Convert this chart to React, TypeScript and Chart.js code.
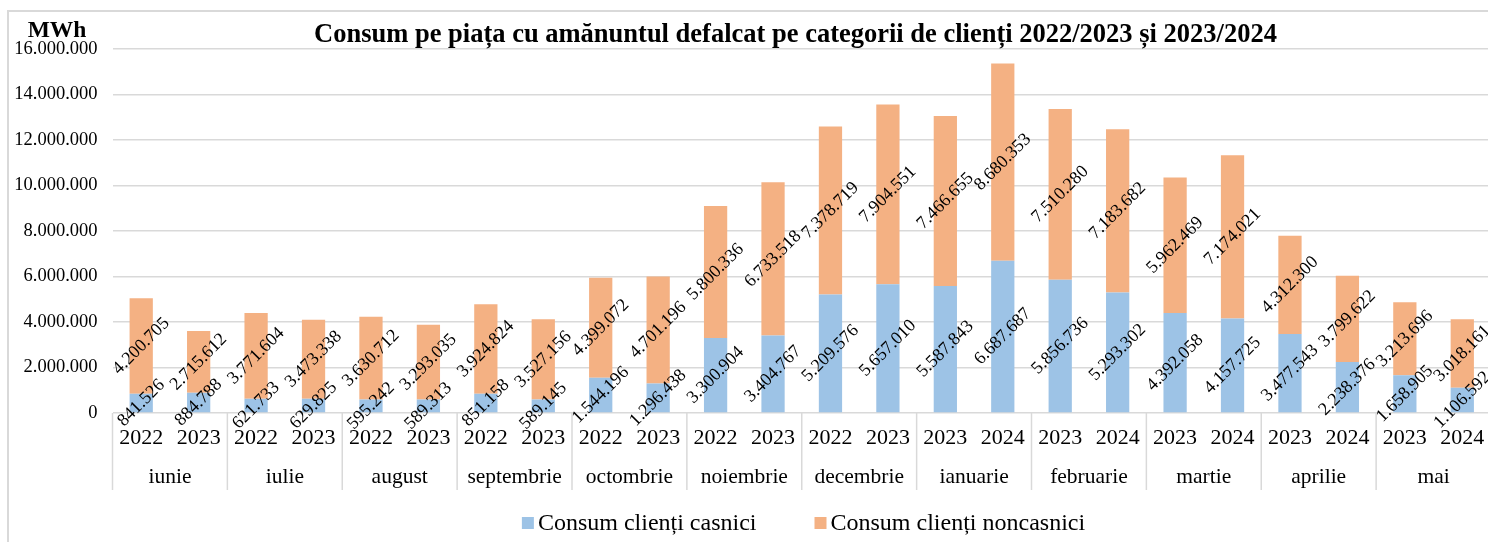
import React, { useEffect, useRef } from "react";
import { Chart, registerables } from "chart.js";

Chart.register(...registerables);

const years: string[] = [
  "2022", "2023", "2022", "2023", "2022", "2023", "2022", "2023",
  "2022", "2023", "2022", "2023", "2022", "2023", "2023", "2024",
  "2023", "2024", "2023", "2024", "2023", "2024", "2023", "2024",
];
const months: string[] = [
  "iunie", "iulie", "august", "septembrie", "octombrie", "noiembrie",
  "decembrie", "ianuarie", "februarie", "martie", "aprilie", "mai",
];
const casnici: number[] = [
  841526, 884788, 621733, 629825, 595242, 589313, 851158, 589145,
  1544196, 1296438, 3300904, 3404767, 5209576, 5657010, 5587843, 6687687,
  5856736, 5293302, 4392058, 4157725, 3477543, 2238376, 1658905, 1106592,
];
const noncasnici: number[] = [
  4200705, 2715612, 3771604, 3473338, 3630712, 3293035, 3924824, 3527156,
  4399072, 4701196, 5800336, 6733518, 7378719, 7904551, 7466655, 8680353,
  7510280, 7183682, 5962469, 7174021, 4312300, 3799622, 3213696, 3018161,
];
const seriesNames: string[] = ["Consum clienți casnici", "Consum clienți noncasnici"];
const seriesColors: string[] = ["#9DC3E6", "#F4B183"];
const titleText = "Consum pe piața cu amănuntul defalcat pe categorii de clienți 2022/2023 și 2023/2024";
const unitText = "MWh";

const FONT = "'Liberation Serif', 'Times New Roman', serif";
const fmt = (n: number) => String(Math.round(n)).replace(/\B(?=(\d{3})+(?!\d))/g, ".");

const overlayPlugin = {
  id: "overlay",
  afterDraw(chart: any) {
    const ctx = chart.ctx as CanvasRenderingContext2D;
    const area = chart.chartArea;
    const xs = chart.scales.x;
    ctx.save();

    // title & unit
    ctx.fillStyle = "#000";
    ctx.textAlign = "center";
    ctx.textBaseline = "middle";
    ctx.font = `bold 26.5px ${FONT}`;
    ctx.fillText(titleText, 795.5, 35);
    ctx.font = `bold 23.5px ${FONT}`;
    ctx.fillText(unitText, 57, 31);

    // data labels
    ctx.font = `18px ${FONT}`;
    chart.data.datasets.forEach((_ds: any, di: number) => {
      const meta = chart.getDatasetMeta(di);
      meta.data.forEach((el: any, i: number) => {
        const v = chart.data.datasets[di].data[i];
        const cy = (el.y + el.base) / 2;
        ctx.save();
        ctx.translate(el.x, cy);
        ctx.rotate(-Math.PI / 4);
        ctx.textAlign = "center";
        ctx.textBaseline = "middle";
        ctx.fillText(fmt(v), 0, 0);
        ctx.restore();
      });
    });

    // month groups
    const n = chart.data.labels.length;
    const step = (xs.getPixelForValue(1) - xs.getPixelForValue(0));
    ctx.strokeStyle = "#d9d9d9";
    ctx.lineWidth = 1.5;
    for (let m = 0; m <= months.length; m++) {
      const idx = m * 2;
      const x = idx < n ? xs.getPixelForValue(idx) - step / 2 : xs.getPixelForValue(n - 1) + step / 2;
      ctx.beginPath();
      ctx.moveTo(x, area.bottom);
      ctx.lineTo(x, area.bottom + 77);
      ctx.stroke();
    }
    ctx.font = `21.5px ${FONT}`;
    ctx.textAlign = "center";
    ctx.textBaseline = "middle";
    months.forEach((mName, m) => {
      const cx = (xs.getPixelForValue(m * 2) + xs.getPixelForValue(m * 2 + 1)) / 2;
      ctx.fillText(mName, cx, 477);
    });

    // legend
    ctx.font = `24px ${FONT}`;
    const box = 12, gap = 4, itemGap = 58;
    const widths = seriesNames.map((s) => box + gap + ctx.measureText(s).width);
    const total = widths.reduce((a, b) => a + b, 0) + itemGap;
    let lx = 803.5 - total / 2;
    const ly = 524;
    seriesNames.forEach((s, i) => {
      ctx.fillStyle = seriesColors[i];
      ctx.fillRect(lx, ly - box / 2 - 1, box, box);
      ctx.fillStyle = "#000";
      ctx.textAlign = "left";
      ctx.fillText(s, lx + box + gap, ly);
      lx += widths[i] + itemGap;
    });
    ctx.restore();
  },
};

export default function App() {
  const ref = useRef<HTMLCanvasElement | null>(null);
  useEffect(() => {
    if (!ref.current) return;
    const chart = new Chart(ref.current, {
      type: "bar",
      data: {
        labels: years,
        datasets: [
          { label: seriesNames[0], data: casnici, backgroundColor: seriesColors[0], barPercentage: 0.405, categoryPercentage: 1 },
          { label: seriesNames[1], data: noncasnici, backgroundColor: seriesColors[1], barPercentage: 0.405, categoryPercentage: 1 },
        ],
      },
      options: {
        animation: false,
        responsive: false,
        maintainAspectRatio: false,
        layout: { padding: { top: 49, right: 9, left: 0, bottom: 0 } },
        plugins: { legend: { display: false }, title: { display: false }, tooltip: { enabled: false } },
        scales: {
          x: {
            stacked: true,
            grid: { display: false, drawTicks: false },
            border: { display: false },
            ticks: { font: { family: FONT, size: 22 }, color: "#000", padding: 12, maxRotation: 0, autoSkip: false },
            afterFit: (s: any) => { s.height = 129; },
          },
          y: {
            stacked: true,
            min: 0,
            max: 16000000,
            grid: { color: "#d9d9d9", lineWidth: 1.5, drawTicks: false },
            border: { display: false },
            ticks: { stepSize: 2000000, font: { family: FONT, size: 18.5 }, color: "#000", padding: 15, callback: (v: any) => fmt(Number(v)) },
            afterFit: (s: any) => { s.width = 112.5; },
          },
        },
      },
      plugins: [overlayPlugin],
    } as any);
    return () => chart.destroy();
  }, []);
  return (
    <div style={{ position: "fixed", left: 0, top: 0, width: 1488, height: 542, overflow: "hidden", background: "#fff" }}>
      <div style={{ position: "absolute", left: 7, top: 10, width: 1600, height: 700, borderLeft: "2px solid #d9d9d9", borderTop: "2px solid #d9d9d9" }} />
      <canvas ref={ref} width={1500} height={542} style={{ position: "absolute", left: 0, top: 0, width: 1500, height: 542 }} />
    </div>
  );
}
